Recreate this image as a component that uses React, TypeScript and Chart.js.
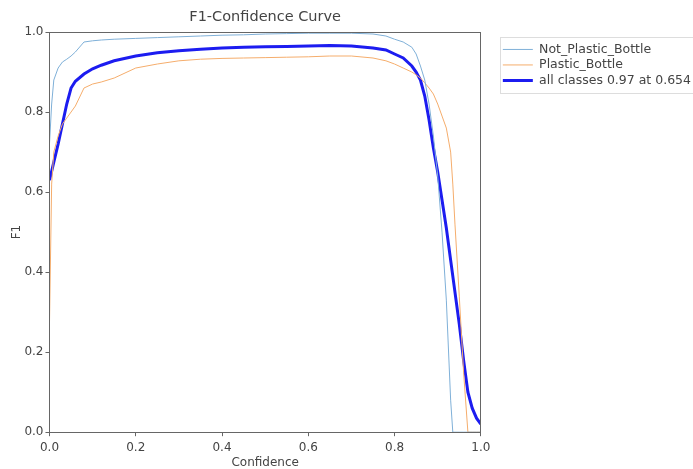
import React, { useEffect, useRef } from "react";
import { Chart, registerables } from "chart.js";

Chart.register(...registerables);

const confidence = [0, 0.005, 0.01, 0.02, 0.03, 0.04, 0.05, 0.06, 0.08, 0.1, 0.12, 0.15, 0.2, 0.25, 0.3, 0.35, 0.4, 0.45, 0.5, 0.55, 0.6, 0.65, 0.7, 0.75, 0.78, 0.8, 0.82, 0.84, 0.85, 0.86, 0.87, 0.88, 0.89, 0.9, 0.91, 0.92, 0.93, 0.935, 0.94, 0.95, 0.96, 0.97, 0.98, 0.99, 1.0];

const notPlasticBottle = [0.72, 0.82, 0.88, 0.91, 0.925, 0.932, 0.94, 0.95, 0.975, 0.978, 0.98, 0.982, 0.984, 0.986, 0.988, 0.99, 0.992, 0.993, 0.995, 0.996, 0.997, 0.997, 0.997, 0.995, 0.99, 0.982, 0.975, 0.962, 0.945, 0.915, 0.88, 0.82, 0.74, 0.64, 0.5, 0.33, 0.08, 0, 0, 0, 0, 0, 0, 0, 0];

const plasticBottle = [0.27, 0.62, 0.7, 0.74, 0.77, 0.785, 0.8, 0.815, 0.86, 0.87, 0.875, 0.885, 0.91, 0.92, 0.928, 0.932, 0.934, 0.935, 0.936, 0.937, 0.938, 0.94, 0.94, 0.935, 0.928, 0.92, 0.91, 0.9, 0.893, 0.885, 0.873, 0.86, 0.845, 0.82, 0.79, 0.76, 0.7, 0.62, 0.52, 0.34, 0.15, 0, 0, 0, 0];

const allClasses = [0.63, 0.652, 0.675, 0.72, 0.77, 0.82, 0.86, 0.877, 0.895, 0.908, 0.917, 0.928, 0.94, 0.948, 0.953, 0.957, 0.96, 0.962, 0.963, 0.964, 0.965, 0.966, 0.965, 0.96, 0.955, 0.945, 0.935, 0.915, 0.9, 0.88, 0.84, 0.78, 0.71, 0.65, 0.58, 0.51, 0.43, 0.39, 0.35, 0.27, 0.18, 0.1, 0.06, 0.035, 0.02];

const seriesLabels = ["Not_Plastic_Bottle", "Plastic_Bottle", "all classes 0.97 at 0.654"];
const tickValues = [0, 0.2, 0.4, 0.6, 0.8, 1.0];

const FONT = "'DejaVu Sans', sans-serif";
const TEXT = "#444";

const frames = {
  id: "frames",
  afterDraw(chart: any) {
    const ctx = chart.ctx;
    const a = chart.chartArea;
    ctx.save();
    ctx.strokeStyle = "#666";
    ctx.lineWidth = 1;
    ctx.strokeRect(Math.round(a.left) + 0.5, Math.round(a.top) + 0.5, Math.round(a.right - a.left), Math.round(a.bottom - a.top));
    const lg = chart.legend;
    if (lg) {
      const h = lg.legendHitBoxes;
      if (h && h.length) {
        ctx.strokeStyle = "#ddd";
        const top = h[0].top - 6;
        const bottom = h[h.length - 1].top + h[h.length - 1].height + 6;
        const left = h[0].left - 3;
        ctx.strokeRect(Math.round(left) + 0.5, Math.round(top) + 0.5, chart.width - Math.round(left) + 5, Math.round(bottom - top));
      }
    }
    ctx.restore();
  },
};

function toPoints(ys: number[]) {
  return ys.map((y, i) => ({ x: confidence[i], y }));
}

export default function App() {
  const ref = useRef<HTMLCanvasElement | null>(null);
  useEffect(() => {
    document.body.style.margin = "0";
    const chart = new Chart(ref.current as HTMLCanvasElement, {
      type: "line",
      data: {
        datasets: [
          { label: seriesLabels[0], data: toPoints(notPlasticBottle), borderColor: "#7fb0d8", backgroundColor: "#7fb0d8", borderWidth: 1, pointRadius: 0, tension: 0 },
          { label: seriesLabels[1], data: toPoints(plasticBottle), borderColor: "#f5ad6c", backgroundColor: "#f5ad6c", borderWidth: 1, pointRadius: 0, tension: 0 },
          { label: seriesLabels[2], data: toPoints(allClasses), borderColor: "#1c1cf0", backgroundColor: "#1c1cf0", borderWidth: 3, pointRadius: 0, tension: 0 },
        ],
      },
      options: {
        animation: false,
        responsive: true,
        maintainAspectRatio: false,
        layout: { padding: { left: 7, right: -8, top: 0, bottom: -2 } },
        plugins: {
          title: {
            display: true,
            text: "F1-Confidence Curve",
            fullSize: false,
            color: TEXT,
            font: { family: FONT, size: 14.5, weight: "normal" },
            padding: { top: 9, bottom: 5.6 },
          },
          legend: {
            position: "right",
            align: "start",
            fullSize: false,
            maxWidth: 260,
            title: { display: true, text: "", font: { size: 1 }, padding: { top: 4, bottom: 3 } },
            labels: {
              usePointStyle: true,
              pointStyle: "line",
              pointStyleWidth: 30,
              boxHeight: 12.5,
              color: TEXT,
              font: { family: FONT, size: 12.5 },
              padding: 3,
            },
          },
          tooltip: { enabled: false },
        },
        scales: {
          x: {
            type: "linear",
            min: 0,
            max: 1,
            afterBuildTicks: (s: any) => { s.ticks = tickValues.map((v) => ({ value: v })); },
            ticks: { color: TEXT, font: { family: FONT, size: 12 }, padding: 4, maxRotation: 0, callback: (v: any) => Number(v).toFixed(1) },
            grid: { display: true, drawOnChartArea: false, drawTicks: true, tickLength: 4, color: "#666" },
            border: { display: true, color: "#666" },
            title: { display: true, text: "Confidence", color: TEXT, font: { family: FONT, size: 12 }, padding: { top: -3, bottom: 1 } },
          },
          y: {
            type: "linear",
            min: 0,
            max: 1,
            afterBuildTicks: (s: any) => { s.ticks = tickValues.map((v) => ({ value: v })); },
            ticks: { color: TEXT, font: { family: FONT, size: 12 }, padding: 2, callback: (v: any) => Number(v).toFixed(1) },
            grid: { display: true, drawOnChartArea: false, drawTicks: true, tickLength: 4, color: "#666" },
            border: { display: true, color: "#666" },
            title: { display: true, text: "F1", color: TEXT, font: { family: FONT, size: 12 }, padding: { top: 3, bottom: -2 } },
          },
          gap: {
            type: "linear",
            position: "right",
            display: true,
            ticks: { display: false },
            grid: { display: false },
            border: { display: false },
            afterFit: (s: any) => { s.width = 19; },
          },
        },
      },
      plugins: [frames],
    });
    return () => chart.destroy();
  }, []);
  return (
    <div style={{ width: 693, height: 469, position: "relative" }}>
      <canvas ref={ref} />
    </div>
  );
}
